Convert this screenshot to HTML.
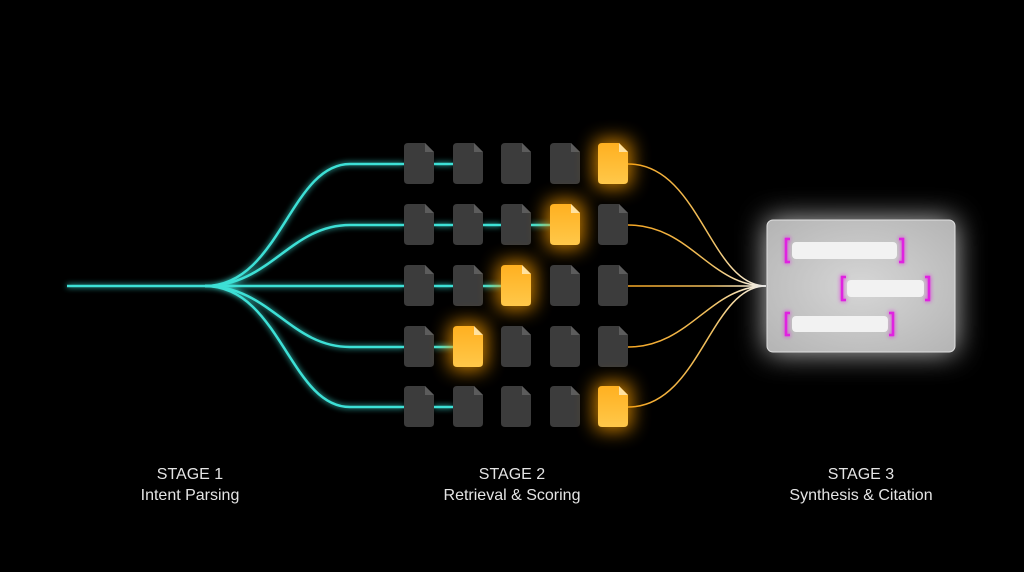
<!DOCTYPE html>
<html><head><meta charset="utf-8"><style>
html,body{margin:0;padding:0;background:#000;}
svg{display:block}
text{font-family:"Liberation Sans",sans-serif;fill:#e4e4e4;font-size:16px;text-anchor:middle}
</style></head><body>
<svg width="1024" height="572" viewBox="0 0 1024 572" xmlns="http://www.w3.org/2000/svg">
<defs>
<filter id="glowC" x="-20%" y="-50%" width="140%" height="200%"><feGaussianBlur stdDeviation="3" result="b"/><feMerge><feMergeNode in="b"/><feMergeNode in="SourceGraphic"/></feMerge></filter>
<filter id="halo" x="-100%" y="-100%" width="300%" height="300%"><feGaussianBlur stdDeviation="9"/></filter>
<filter id="glowW" x="-30%" y="-40%" width="160%" height="180%"><feGaussianBlur stdDeviation="14" result="b"/><feMerge><feMergeNode in="b"/><feMergeNode in="SourceGraphic"/></feMerge></filter>
<filter id="glowM" x="-50%" y="-50%" width="200%" height="200%"><feGaussianBlur stdDeviation="2" result="b"/><feMerge><feMergeNode in="b"/><feMergeNode in="SourceGraphic"/></feMerge></filter>
<linearGradient id="og" gradientUnits="userSpaceOnUse" x1="628" y1="0" x2="766" y2="0"><stop offset="0" stop-color="#f5a623"/><stop offset="0.6" stop-color="#f0c060"/><stop offset="1" stop-color="#ffffff"/></linearGradient>
<linearGradient id="yd" x1="0" y1="0" x2="0" y2="1"><stop offset="0" stop-color="#ffb020"/><stop offset="1" stop-color="#ffc84a"/></linearGradient>
<radialGradient id="cardg" cx="0.5" cy="0.5" r="0.7"><stop offset="0" stop-color="#d6d6d6"/><stop offset="1" stop-color="#b4b4b4"/></radialGradient>
<g id="dg"><path d="M4 0 H21 L30 9 V37 Q30 41 26 41 H4 Q0 41 0 37 V4 Q0 0 4 0Z" fill="#3c3c3c"/><path d="M21 0 V9 H30Z" fill="#5c5c5c"/></g>
<g id="dy"><rect x="-4" y="-4" width="38" height="49" rx="8" fill="#ffa000" opacity="0.75" filter="url(#halo)"/><path d="M4 0 H21 L30 9 V37 Q30 41 26 41 H4 Q0 41 0 37 V4 Q0 0 4 0Z" fill="url(#yd)"/><path d="M21 0 V9 H30Z" fill="#ffe2a0"/></g>
</defs>

<g fill="none" stroke="#3ee0d6" stroke-width="2.5" filter="url(#glowC)">
<path d="M67 286 H205"/>
<path d="M205 286 C280 286 290 164 350 164 H404"/>
<path d="M205 286 C270 286 290 225 350 225 H404"/>
<path d="M205 286 H404"/>
<path d="M205 286 C270 286 290 347 350 347 H404"/>
<path d="M205 286 C280 286 290 407 350 407 H404"/>
<path d="M434 164 H453"/>
<path d="M434 225 H453 M483 225 H501 M531 225 H550"/>
<path d="M434 286 H453 M483 286 H501"/>
<path d="M434 347 H453"/>
<path d="M434 407 H453"/>
</g>

<g fill="none" stroke="url(#og)" stroke-width="1.5">
<path d="M628 164 C700 164 710 286 766 286"/>
<path d="M628 225 C690 225 710 286 766 286"/>
<path d="M628 286 H766"/>
<path d="M628 347 C690 347 710 286 766 286"/>
<path d="M628 407 C700 407 710 286 766 286"/>
</g>

<use href="#dg" x="404" y="143"/><use href="#dg" x="453" y="143"/><use href="#dg" x="501" y="143"/><use href="#dg" x="550" y="143"/><use href="#dy" x="598" y="143"/>
<use href="#dg" x="404" y="204"/><use href="#dg" x="453" y="204"/><use href="#dg" x="501" y="204"/><use href="#dy" x="550" y="204"/><use href="#dg" x="598" y="204"/>
<use href="#dg" x="404" y="265"/><use href="#dg" x="453" y="265"/><use href="#dy" x="501" y="265"/><use href="#dg" x="550" y="265"/><use href="#dg" x="598" y="265"/>
<use href="#dg" x="404" y="326"/><use href="#dy" x="453" y="326"/><use href="#dg" x="501" y="326"/><use href="#dg" x="550" y="326"/><use href="#dg" x="598" y="326"/>
<use href="#dg" x="404" y="386"/><use href="#dg" x="453" y="386"/><use href="#dg" x="501" y="386"/><use href="#dg" x="550" y="386"/><use href="#dy" x="598" y="386"/>

<rect x="767" y="220" width="188" height="132" rx="6" fill="url(#cardg)" stroke="#e0e0e0" stroke-width="1" filter="url(#glowW)"/>
<g fill="#f2f2f2">
<rect x="792" y="242" width="105" height="17" rx="4"/>
<rect x="847" y="280" width="77" height="17" rx="4"/>
<rect x="792" y="316" width="96" height="16" rx="4"/>
</g>
<g fill="none" stroke="#e020e0" stroke-width="2.5" filter="url(#glowM)">
<path d="M790 239 H786 V262 H790"/><path d="M899 239 H903 V262 H899"/>
<path d="M846 277 H842 V300 H846"/><path d="M925 277 H929 V300 H925"/>
<path d="M790 313 H786 V335 H790"/><path d="M889 313 H893 V335 H889"/>
</g>

<text x="190" y="479">STAGE 1</text>
<text x="190" y="500">Intent Parsing</text>
<text x="512" y="479">STAGE 2</text>
<text x="512" y="500">Retrieval &amp; Scoring</text>
<text x="861" y="479">STAGE 3</text>
<text x="861" y="500">Synthesis &amp; Citation</text>
</svg>
</body></html>
